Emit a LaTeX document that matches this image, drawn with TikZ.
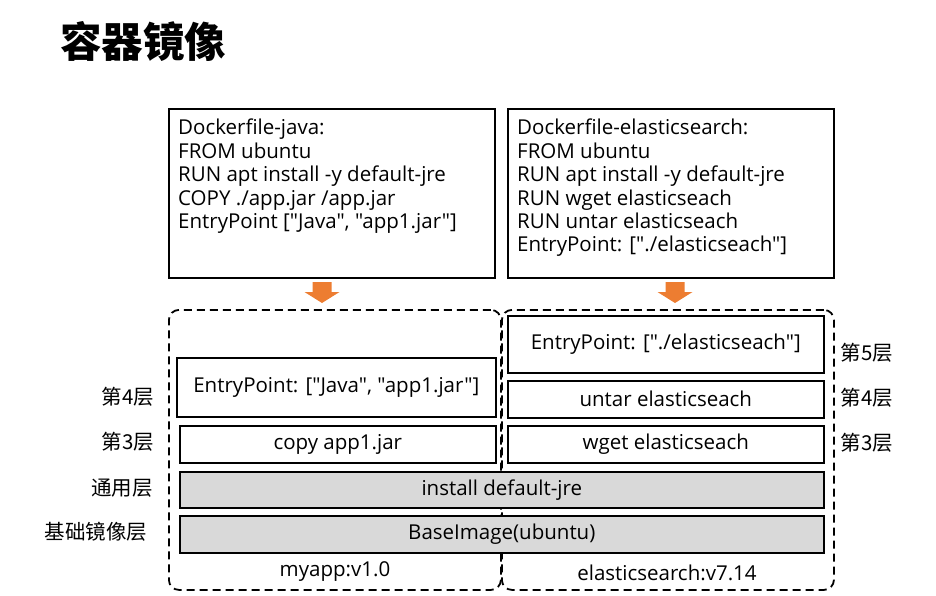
\documentclass[tikz,border=0pt]{standalone}
\usepackage{fontspec}
\setmainfont{Open Sans}[Ligatures=TeXOff]
\newfontfamily\cjk{Noto Sans CJK SC}
\definecolor{arroworange}{HTML}{ED7D31}
\definecolor{layergray}{HTML}{D9D9D9}

\begin{document}
\begin{tikzpicture}[x=1pt, y=-1pt,
		filebox/.style={draw=black, line width=1.6pt, anchor=north west, inner sep=0pt, minimum width=326pt, minimum height=169pt},
		filetext/.style={anchor=north west, align=left, inner sep=0pt, font=\fontsize{20.5}{23.4}\selectfont},
		layer/.style={draw=black, line width=1.6pt, anchor=north west, inner sep=0pt, minimum height=37pt, font=\fontsize{20.5}{24}\selectfont},
		baselayer/.style={layer, fill=layergray},
		imageframe/.style={draw=black, dash pattern=on 8pt off 5pt, line width=1.8pt, rounded corners=10pt, anchor=north west, inner sep=0pt, minimum width=332pt, minimum height=280pt},
		sidelabel/.style={font=\cjk\fontsize{20.5}{20.5}\selectfont},
		buildarrow/.style={fill=arroworange}
	]
	\useasboundingbox (0,0) rectangle (936,596);
	
	\node[anchor=west, inner sep=0pt, font=\cjk\bfseries\fontsize{41.5}{41.5}\selectfont] (title) at (60,41) {容器镜像};
	
	% dockerfiles
	\node[filebox] (javafile) at (168,108) {};
	\node[filetext] (javatext) at (178,119) {Dockerfile-java:\\FROM ubuntu\\RUN apt install -y default-jre\\COPY ./app.jar /app.jar\\EntryPoint ["Java", "app1.jar"]};
	\node[filebox] (esfile) at (507,108) {};
	\node[filetext] (estext) at (517,119) {Dockerfile-elasticsearch:\\FROM ubuntu\\RUN apt install -y default-jre\\RUN wget elasticseach\\RUN untar elasticseach\\EntryPoint: ["./elasticseach"]};
	
	\fill[buildarrow, shift={(322,282)}] (-9.5,0) -- (9.5,0) -- (9.5,10) -- (17.5,10) -- (0,21) -- (-17.5,10) -- (-9.5,10) -- cycle;
	\fill[buildarrow, shift={(675,282)}] (-9.5,0) -- (9.5,0) -- (9.5,10) -- (17.5,10) -- (0,21) -- (-17.5,10) -- (-9.5,10) -- cycle;
	
	% images
	\node[imageframe] (myapp) at (168,309) {};
	\node[imageframe] (esimage) at (501,309) {};
	
	\node[layer, minimum width=319pt, minimum height=59pt] (jentry) at (176,357) {EntryPoint: ["Java", "app1.jar"]};
	\node[layer, minimum width=316pt] (jcopy) at (179,425) {copy app1.jar};
	\node[layer, minimum width=316pt, minimum height=57pt] (eentry) at (507,315) {EntryPoint: ["./elasticseach"]};
	\node[layer, minimum width=316pt] (euntar) at (507,380) {untar elasticseach};
	\node[layer, minimum width=316pt] (ewget) at (507,425) {wget elasticseach};
	\node[baselayer, minimum width=644pt, minimum height=36pt] (jre) at (179,471) {install default-jre};
	\node[baselayer, minimum width=644pt] (base) at (179,515) {BaseImage(ubuntu)};
	
	\node[font=\fontsize{20.5}{24}\selectfont] (myapptag) at (335,572) {myapp:v1.0};
	\node[font=\fontsize{20.5}{24}\selectfont] (estag) at (667,573) {elasticsearch:v7.14};
	
	% layer names
	\node[sidelabel] (l4) at (128,397) {第4层};
	\node[sidelabel] (l3) at (128,442) {第3层};
	\node[sidelabel] (lcommon) at (122,488) {通用层};
	\node[sidelabel] (lbase) at (96,532) {基础镜像层};
	\node[sidelabel] (r5) at (867,353) {第5层};
	\node[sidelabel] (r4) at (867,398) {第4层};
	\node[sidelabel] (r3) at (867,443) {第3层};
\end{tikzpicture}
\end{document}
